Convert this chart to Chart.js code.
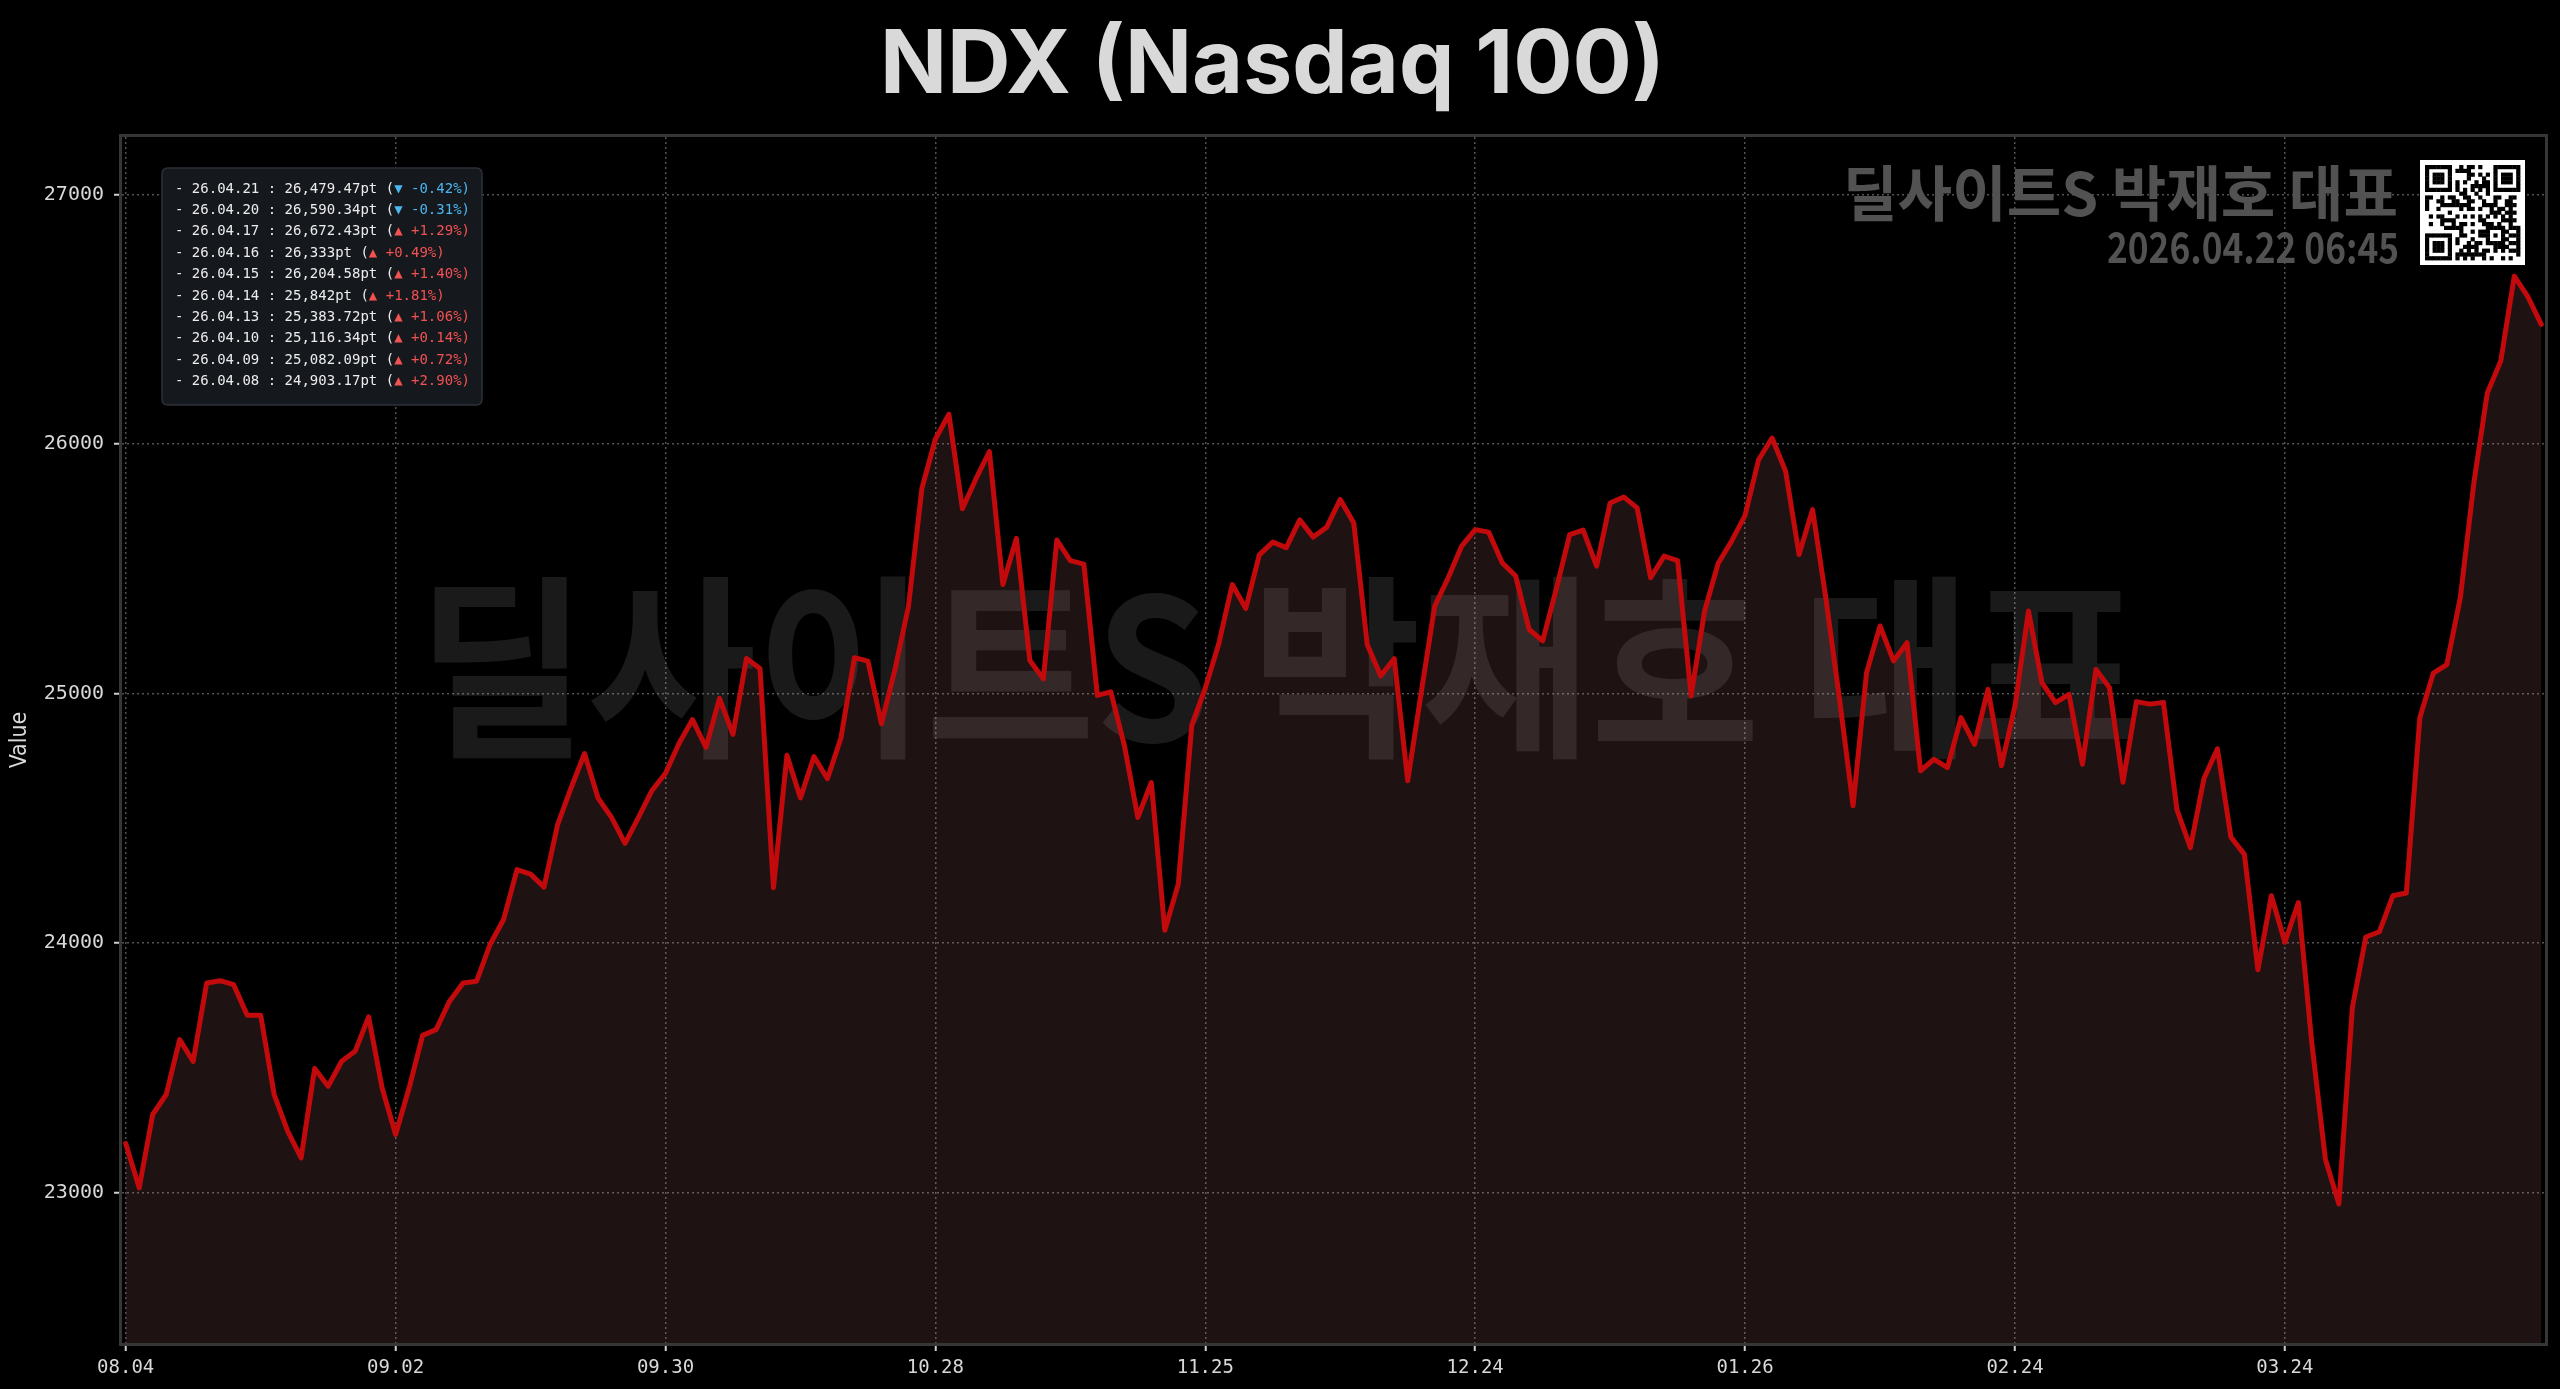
<!DOCTYPE html>
<html>
<head>
<meta charset="utf-8">
<title>NDX (Nasdaq 100)</title>
<script src="https://cdn.jsdelivr.net/npm/chart.js@4.4.1/dist/chart.umd.min.js"></script>
<style>
html,body{margin:0;padding:0;background:#000;overflow:hidden;}
canvas{display:block;}
</style>
</head>
<body>
<canvas id="c" width="2560" height="1389"></canvas>
<script>
// ---------- DATA ----------
const titleText = 'NDX (Nasdaq 100)';
const watermarkText = '딜사이트S 박재호 대표';
const stampText = '2026.04.22 06:45';
const yAxisTitle = 'Value';

const dates = [
'25.08.04','25.08.05','25.08.06','25.08.07','25.08.08','25.08.11','25.08.12','25.08.13','25.08.14','25.08.15',
'25.08.18','25.08.19','25.08.20','25.08.21','25.08.22','25.08.25','25.08.26','25.08.27','25.08.28','25.08.29',
'25.09.02','25.09.03','25.09.04','25.09.05','25.09.08','25.09.09','25.09.10','25.09.11','25.09.12','25.09.15',
'25.09.16','25.09.17','25.09.18','25.09.19','25.09.22','25.09.23','25.09.24','25.09.25','25.09.26','25.09.29',
'25.09.30','25.10.01','25.10.02','25.10.03','25.10.06','25.10.07','25.10.08','25.10.09','25.10.10','25.10.13',
'25.10.14','25.10.15','25.10.16','25.10.17','25.10.20','25.10.21','25.10.22','25.10.23','25.10.24','25.10.27',
'25.10.28','25.10.29','25.10.30','25.10.31','25.11.03','25.11.04','25.11.05','25.11.06','25.11.07','25.11.10',
'25.11.11','25.11.12','25.11.13','25.11.14','25.11.17','25.11.18','25.11.19','25.11.20','25.11.21','25.11.24',
'25.11.25','25.11.26','25.11.28','25.12.01','25.12.02','25.12.03','25.12.04','25.12.05','25.12.08','25.12.09',
'25.12.10','25.12.11','25.12.12','25.12.15','25.12.16','25.12.17','25.12.18','25.12.19','25.12.22','25.12.23',
'25.12.24','25.12.26','25.12.29','25.12.30','25.12.31','26.01.02','26.01.05','26.01.06','26.01.07','26.01.08',
'26.01.09','26.01.12','26.01.13','26.01.14','26.01.15','26.01.16','26.01.20','26.01.21','26.01.22','26.01.23',
'26.01.26','26.01.27','26.01.28','26.01.29','26.01.30','26.02.02','26.02.03','26.02.04','26.02.05','26.02.06',
'26.02.09','26.02.10','26.02.11','26.02.12','26.02.13','26.02.17','26.02.18','26.02.19','26.02.20','26.02.23',
'26.02.24','26.02.25','26.02.26','26.02.27','26.03.02','26.03.03','26.03.04','26.03.05','26.03.06','26.03.09',
'26.03.10','26.03.11','26.03.12','26.03.13','26.03.16','26.03.17','26.03.18','26.03.19','26.03.20','26.03.23',
'26.03.24','26.03.25','26.03.26','26.03.27','26.03.30','26.03.31','26.04.01','26.04.02','26.04.06','26.04.07',
'26.04.08','26.04.09','26.04.10','26.04.13','26.04.14','26.04.15','26.04.16','26.04.17','26.04.20','26.04.21'
];

const values = [
23198,23020,23314,23394,23614,23527,23841,23850,23834,23712,
23712,23394,23247,23140,23498,23427,23527,23567,23705,23420,
23234,23420,23631,23654,23768,23841,23848,23995,24095,24295,
24277,24225,24474,24622,24760,24582,24504,24400,24504,24612,
24681,24800,24896,24785,24981,24837,25141,25101,24222,24753,
24582,24748,24659,24822,25144,25130,24879,25096,25348,25822,
26020,26119,25741,25860,25970,25437,25622,25133,25059,25615,
25533,25519,24993,25007,24793,24504,24644,24052,24237,24874,
25022,25200,25437,25341,25556,25607,25585,25696,25627,25667,
25778,25684,25197,25071,25140,24651,25004,25351,25464,25591,
25657,25647,25524,25471,25257,25211,25417,25637,25655,25511,
25764,25788,25744,25464,25551,25533,24991,25331,25521,25611,
25714,25937,26024,25891,25557,25737,25377,24977,24551,25084,
25271,25131,25204,24691,24737,24704,24904,24797,25017,24711,
24951,25331,25044,24964,24997,24717,25097,25024,24645,24968,
24958,24965,24535,24383,24659,24779,24425,24356,23894,24190,
24004,24163,23597,23135,22956,23742,24025,24046,24190,24201,
24903.17,25082.09,25116.34,25383.72,25842,26204.58,26333,26672.43,26590.34,26479.47
];

const xTickLabels = ['08.04','09.02','09.30','10.28','11.25','12.24','01.26','02.24','03.24'];
const yTickValues = [23000,24000,25000,26000,27000];
// daily change (%) shown in the info box, newest first
const recentChangePct = [-0.42,-0.31,1.29,0.49,1.40,1.81,1.06,0.14,0.72,2.90];

// ---------- derived ----------
const xTickIdx = xTickLabels.map(l => dates.findIndex(d => d.slice(3) === l));
const vMin = Math.min(...values), vMax = Math.max(...values);
const vPad = (vMax - vMin) * 0.15;

function fmtPt(v){ return v.toLocaleString('en-US',{maximumFractionDigits:2}); }

function roundRect(c,x,y,w,h,r){
  c.beginPath();
  c.moveTo(x+r,y); c.lineTo(x+w-r,y); c.quadraticCurveTo(x+w,y,x+w,y+r);
  c.lineTo(x+w,y+h-r); c.quadraticCurveTo(x+w,y+h,x+w-r,y+h);
  c.lineTo(x+r,y+h); c.quadraticCurveTo(x,y+h,x,y+h-r);
  c.lineTo(x,y+r); c.quadraticCurveTo(x,y,x+r,y); c.closePath();
}

function drawQR(c,x,y,size){
  c.fillStyle='#ffffff'; c.fillRect(x,y,size,size);
  const n=25, m=5, cell=(size-2*m)/n;
  const inFinder=(i,j,fx,fy)=>i>=fx&&i<fx+7&&j>=fy&&j<fy+7;
  const finderDark=(i,j,fx,fy)=>{const a=i-fx,b=j-fy;
    if(a===0||a===6||b===0||b===6) return true;
    return a>=2&&a<=4&&b>=2&&b<=4;};
  c.fillStyle='#000000';
  for(let i=0;i<n;i++){for(let j=0;j<n;j++){
    let d=false;
    const F=[[0,0],[n-7,0],[0,n-7]];
    let handled=false;
    for(const [fx,fy] of F){ if(inFinder(i,j,fx,fy)){ d=finderDark(i,j,fx,fy); handled=true; } }
    if(!handled){
      const nearF = (i<8&&j<8)||(i>n-9&&j<8)||(i<8&&j>n-9);
      if(nearF) d=false;
      else if(i>=16&&i<=20&&j>=16&&j<=20){const a=i-16,b=j-16; d=(a===0||a===4||b===0||b===4||(a===2&&b===2));}
      else if(j===6) d=(i%2===0);
      else if(i===6) d=(j%2===0);
      else d=(((i*131+j*71+i*j*17+(i^j)*5)%11)<5);
    }
    if(d) c.fillRect(x+m+i*cell, y+m+j*cell, cell+0.4, cell+0.4);
  }}
}

function drawFitted(c,text,x,y,targetW,align){
  const w=c.measureText(text).width;
  const sx=targetW/w;
  c.save(); c.translate(x,y); c.scale(sx,1); c.textAlign=align; c.fillText(text,0,0); c.restore();
}

const decor = {
  id:'decor',
  beforeDraw(chart){
    const c=chart.ctx; c.save(); c.fillStyle='#000'; c.fillRect(0,0,chart.width,chart.height); c.restore();
  },
  beforeDatasetsDraw(chart){
    const c=chart.ctx; c.save();
    c.font='bold 196px "Noto Sans CJK KR", "Noto Sans CJK SC", sans-serif';
    c.textBaseline='middle';
    c.fillStyle='rgba(255,255,255,0.10)';
    drawFitted(c,watermarkText,1279,667,1723,'center');
    c.restore();
  },
  afterDatasetsDraw(chart){
    const c=chart.ctx, a=chart.chartArea;
    c.save();
    c.strokeStyle='#363636'; c.lineWidth=3;
    c.strokeRect(a.left-1.5,a.top-1.5,a.right-a.left+3,a.bottom-a.top+3);
    c.restore();
  },
  afterDraw(chart){
    const c=chart.ctx;
    // info box
    c.save();
    roundRect(c,162,168,320,237,6);
    c.fillStyle='#15181d'; c.fill();
    c.strokeStyle='#2c3038'; c.lineWidth=1.5; c.stroke();
    c.font='14px "DejaVu Sans Mono", monospace';
    c.textBaseline='middle'; c.textAlign='left';
    for(let k=0;k<recentChangePct.length;k++){
      const idx=values.length-1-k;
      const pct=recentChangePct[k];
      const y=189+k*21.4;
      const base='- '+dates[idx]+' : '+fmtPt(values[idx])+'pt (';
      c.fillStyle='#ececec'; c.fillText(base,175,y);
      const w=c.measureText(base).width;
      c.fillStyle= pct<0 ? '#4cb6ef' : '#f25252';
      c.fillText((pct<0?'▼ ':'▲ +')+pct.toFixed(2)+'%)',175+w,y);
    }
    // stamp (top right)
    c.fillStyle='#525252';
    c.textBaseline='middle';
    c.font='bold 60px "Noto Sans CJK KR", sans-serif';
    drawFitted(c,watermarkText,2398,193,555,'right');
    c.font='bold 42px "Noto Sans CJK KR", sans-serif';
    drawFitted(c,stampText,2399,247,292,'right');
    // QR
    drawQR(c,2420,160,105);
    c.restore();
  }
};

const gridCommon = { color:'rgba(150,150,150,0.55)', lineWidth:1.5, drawTicks:true, tickLength:8, tickColor:'#cfcfcf', tickWidth:2, tickBorderDash:[] };

new Chart(document.getElementById('c').getContext('2d'), {
  type:'line',
  data:{
    datasets:[{
      label:'NDX',
      data: values.map((v,i)=>({x:i,y:v})),
      borderColor:'#c20a0c',
      borderWidth:5,
      pointRadius:0,
      pointHoverRadius:0,
      tension:0,
      fill:'start',
      backgroundColor:'rgba(255,150,160,0.12)',
      borderJoinStyle:'round',
      borderCapStyle:'round'
    }]
  },
  options:{
    responsive:false,
    animation:false,
    devicePixelRatio:1,
    events:[],
    layout:{padding:{left:0,right:15,top:0,bottom:0}},
    plugins:{
      legend:{display:false},
      tooltip:{enabled:false},
      title:{display:true,text:titleText,color:'#d9d9d9',
        font:{family:'Inter, "Open Sans", sans-serif',size:88,weight:'bold',lineHeight:1},
        padding:{top:23,bottom:26}}
    },
    scales:{
      x:{
        type:'linear',
        min:-0.275,
        max:values.length-1+0.275,
        afterBuildTicks:s=>{ s.ticks=xTickIdx.map(v=>({value:v})); },
        afterFit:s=>{ s.height=46; },
        ticks:{
          callback:v=>{ const i=xTickIdx.indexOf(v); return i>=0 ? xTickLabels[i] : ''; },
          color:'#d8d8d8',
          font:{family:'"DejaVu Sans Mono", monospace',size:19},
          maxRotation:0, autoSkip:false, padding:6
        },
        grid:gridCommon,
        border:{display:false,dash:[2,3]}
      },
      y:{
        min:vMin-vPad,
        max:vMax+vPad,
        afterBuildTicks:s=>{ s.ticks=yTickValues.map(v=>({value:v})); },
        afterFit:s=>{ s.width=122; },
        ticks:{
          callback:v=>String(v),
          color:'#d8d8d8',
          font:{family:'"DejaVu Sans Mono", monospace',size:20},
          padding:10
        },
        grid:gridCommon,
        border:{display:false,dash:[2,3]},
        title:{display:true,text:yAxisTitle,color:'#d8d8d8',
          font:{family:'"DejaVu Sans Condensed", "DejaVu Sans", sans-serif',size:23},
          padding:{top:6,bottom:0}}
      }
    }
  },
  plugins:[decor]
});
</script>
</body>
</html>
